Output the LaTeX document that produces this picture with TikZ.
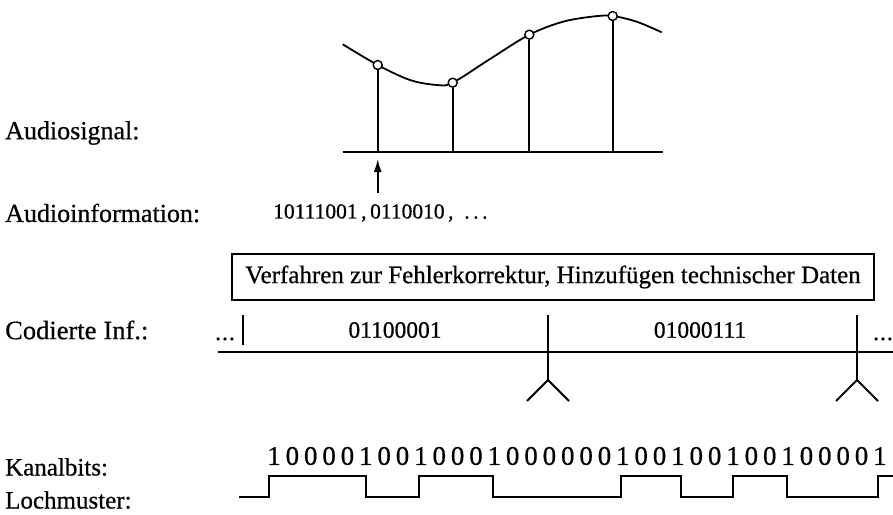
\documentclass[tikz,border=0pt]{standalone}
\usepackage{fontspec}
\setmainfont[FakeBold=0.6]{Liberation Serif}
\usetikzlibrary{arrows.meta}
\begin{document}
\begin{tikzpicture}[x=1pt,y=-1pt,
  line/.style={line width=1.8pt},
  wave/.style={line width=2.2pt,line join=miter},
  sample/.style={circle,draw,fill=white,line width=1.4pt,inner sep=0pt,minimum size=9pt},
  label/.style={anchor=west,inner sep=0pt,font=\fontsize{25}{28}\selectfont},
  code/.style={inner sep=0pt,font=\fontsize{23.5}{26}\selectfont},
  bit/.style={inner sep=0pt,font=\fontsize{27}{30}\selectfont},
  info/.style={anchor=west,inner sep=0pt,font=\fontsize{21.5}{24}\selectfont},
  stepbox/.style={draw,line width=1.6pt,minimum width=642pt,minimum height=46pt,inner sep=0pt,font=\fontsize{25}{28}\selectfont}]
\useasboundingbox (0,0) rectangle (893,514);

% labels on the left
\node[label,font=\fontsize{26}{28}\selectfont] (l1) at (5,133) {Audiosignal:};
\node[label,font=\fontsize{26}{28}\selectfont] (l2) at (5,213) {Audioinformation:};
\node[label,font=\fontsize{26.5}{30}\selectfont] (l3) at (5,330) {Codierte\hspace{7pt}Inf.:};
\node[label] (l4) at (5,467) {Kanalbits:};
\node[label] (l5) at (5,500) {Lochmuster:};

% analogue signal with samples
\draw[line] plot[smooth,tension=0.55] coordinates {(342.7,44.3) (377.7,65) (410,80) (437,85) (452.7,82.7) (490,59) (529.3,34.7) (563,21.7) (595,16.3) (612.7,16) (636.7,21.7) (661.7,32.3)};
\coordinate (axl) at (342.7,152);
\coordinate (axr) at (662.7,152);
\draw[line] (axl) -- (axr);
\foreach \n/\x/\y in {1/377.7/65, 2/452.7/82.7, 3/529.3/34.7, 4/612.7/16}{
  \coordinate (b\n) at (\x,152);
  \node[sample] (s\n) at (\x,\y) {};
  \draw[line] (b\n) -- (s\n);
}
\coordinate (arrowfoot) at (377.7,193);
\coordinate (arrowtip) at (377.7,159);
\draw[line,-{Latex[length=13pt,width=8pt]}] (arrowfoot) -- (arrowtip);

% sample values
\node[info] (vals) at (273,213) {10111001\,,\,0110010\,,\ \ .\,.\,.};

% processing box
\node[stepbox] (proc) at (553,277) {Verfahren zur Fehlerkorrektur, Hinzufügen technischer Daten};

% coded information
\coordinate (hl) at (218,352);
\coordinate (hr) at (893,352);
\draw[line] (hl) -- (hr);
\node[code,anchor=base] (d1) at (225,340) {.\kern1pt.\kern1pt.};
\coordinate (bar0t) at (243,315);
\coordinate (bar0b) at (243,345);
\draw[line] (bar0t) -- (bar0b);
\node[code] (c1) at (395,330) {01100001};
\node[code] (c2) at (700,330) {01000111};
\node[code,anchor=base east] (d2) at (893,340) {.\kern1pt.\kern1pt.};
\foreach \n/\x in {1/548, 2/857}{
  \coordinate (v\n t) at (\x,315);
  \coordinate (v\n f) at (\x,380);
  \coordinate (v\n l) at (\x-21,401);
  \coordinate (v\n r) at (\x+21,401);
  \draw[line] (v\n t) -- (v\n f) -- (v\n l);
  \draw[line] (v\n f) -- (v\n r);
}

% channel bits
\foreach \b [count=\i from 0] in {1,0,0,0,0,1,0,0,1,0,0,0,1,0,0,0,0,0,0,1,0,0,1,0,0,1,0,0,1,0,0,0,0,1}{
  \node[bit] (k\i) at (274+\i*18.36,456) {\b};
}

% pit pattern
\def\lo{497}\def\hi{476}
\draw[wave] (239,\lo) -- (269.3,\lo) -- (269.3,\hi) -- (365.7,\hi) -- (365.7,\lo)
  -- (419.3,\lo) -- (419.3,\hi) -- (492.7,\hi) -- (492.7,\lo) -- (620.7,\lo)
  -- (620.7,\hi) -- (680.7,\hi) -- (680.7,\lo) -- (733.3,\lo) -- (733.3,\hi)
  -- (786.7,\hi) -- (786.7,\lo) -- (878.3,\lo) -- (878.3,\hi) -- (893,\hi);
\end{tikzpicture}
\end{document}
